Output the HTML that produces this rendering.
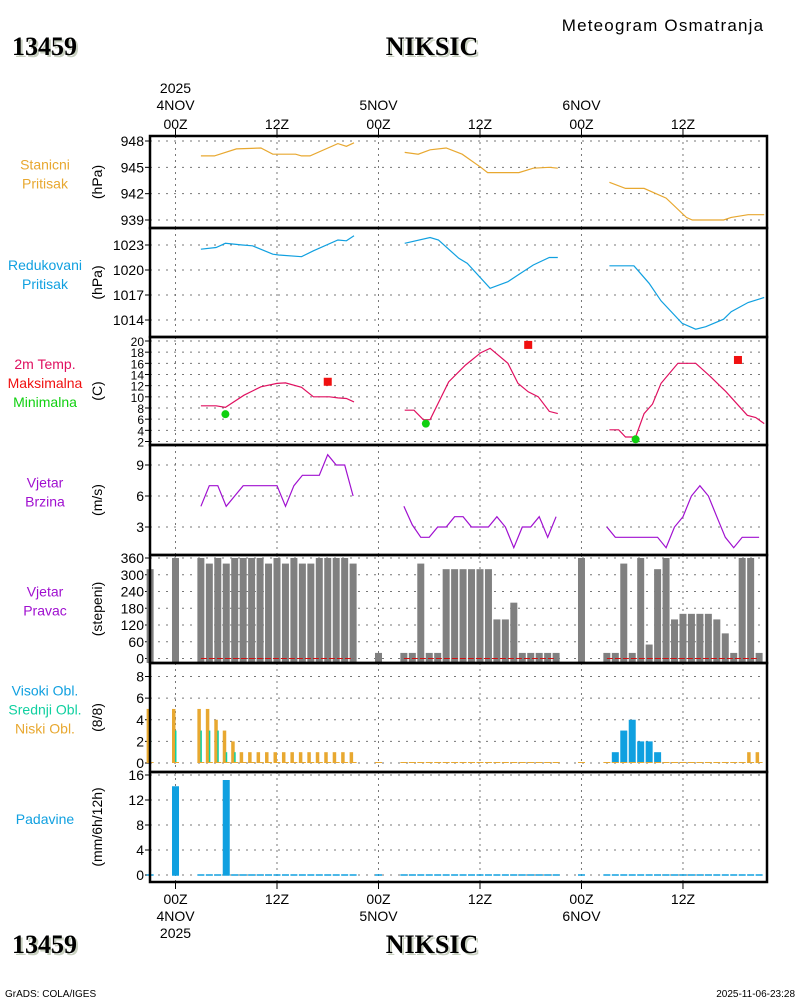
<!DOCTYPE html>
<html><head><meta charset="utf-8"><style>
body{margin:0;background:#fff;}
svg{display:block;font-family:"Liberation Sans",sans-serif;}
</style></head><body>
<svg id="c" width="800" height="1000" viewBox="0 0 800 1000">
<g>
<text x="663" y="31" text-anchor="middle" font-size="17" letter-spacing="1.2">Meteogram Osmatranja</text>
<text x="14" y="57" font-size="26" font-weight="bold" font-family="Liberation Serif" fill="#c8d0c0">13459</text>
<text x="12" y="55" font-size="26" font-weight="bold" font-family="Liberation Serif">13459</text>
<text x="434" y="57" text-anchor="middle" font-size="26" font-weight="bold" font-family="Liberation Serif" fill="#c8d0c0">NIKSIC</text>
<text x="432" y="55" text-anchor="middle" font-size="26" font-weight="bold" font-family="Liberation Serif">NIKSIC</text>
<text x="14" y="955" font-size="26" font-weight="bold" font-family="Liberation Serif" fill="#c8d0c0">13459</text>
<text x="12" y="953" font-size="26" font-weight="bold" font-family="Liberation Serif">13459</text>
<text x="434" y="955" text-anchor="middle" font-size="26" font-weight="bold" font-family="Liberation Serif" fill="#c8d0c0">NIKSIC</text>
<text x="432" y="953" text-anchor="middle" font-size="26" font-weight="bold" font-family="Liberation Serif">NIKSIC</text>
<text x="5" y="997" font-size="10">GrADS: COLA/IGES</text>
<text x="795" y="997" font-size="10" text-anchor="end">2025-11-06-23:28</text>
</g>
</svg>
<script>
// ---- data (hours from 2025-11-04 00Z) ----
const timeTickHours=[0,12,24,36,48,60];
const timeTickLabels=["00Z","12Z","00Z","12Z","00Z","12Z"];
const dayHours=[0,24,48];
const dayLabels=["4NOV","5NOV","6NOV"];
const stpHours=[[3,4.6,7.2,10.1,11.5,14.2,14.9,15.9,19.2,20.2,21.1],[27.1,28.7,30.1,32,33.9,36.1,36.9,40.6,42.3,44.2,45.2],[51.3,53.2,55.4,58,60.4,61.1,64.8,65.7,67.7,69.6]];
const stpValues=[[946.3,946.3,947.1,947.2,946.5,946.5,946.3,946.3,947.7,947.4,947.8],[946.7,946.5,947.0,947.2,946.5,945.0,944.4,944.4,944.9,945.0,944.9],[943.3,942.6,942.6,941.5,939.3,939.0,939.0,939.3,939.6,939.6]];
const slpHours=[[3,4.8,5.9,7.9,9.1,11.5,12.2,14.9,16.3,19.2,20.2,21.1],[27.1,30.1,31.1,33.5,34.5,37.2,39.3,40.5,42.3,44.2,45.2],[51.3,54.2,56,57.4,59.9,61.5,62.7,64.8,65.7,67.7,69.6]];
const slpValues=[[1022.5,1022.7,1023.2,1023.0,1022.9,1021.9,1021.8,1021.6,1022.3,1023.6,1023.5,1024.1],[1023.2,1023.9,1023.6,1021.4,1020.8,1017.8,1018.6,1019.4,1020.6,1021.5,1021.5],[1020.5,1020.5,1018.4,1016.3,1013.6,1012.9,1013.2,1014.1,1015.0,1016.1,1016.7]];
const tempHours=[[3,4.8,5.9,8.1,10.1,12,13,14.9,16.3,18.2,19.2,20.2,21.1],[27.1,28.2,29.3,30.1,32.3,34.3,36.1,37.2,39.3,40.5,41.7,42.9,44.2,45.2],[51.3,52.4,53.2,54.4,55.4,56.4,57.4,59.4,61.5,63.2,65.1,67.6,68.6,69.6]];
const tempValues=[[8.4,8.4,8.1,10.3,11.8,12.4,12.5,11.7,10.0,10.0,9.8,9.7,9.1],[7.6,7.6,5.9,5.9,12.7,15.7,17.9,18.7,16.0,12.4,10.9,10.0,7.4,7.0],[4.1,4.1,2.8,2.8,7.0,8.7,12.4,16.0,16.0,13.7,10.9,6.7,6.3,5.2]];
const tmaxHours=[18,41.7,66.5];
const tmaxValues=[12.7,19.3,16.6];
const tminHours=[5.9,29.6,54.4];
const tminValues=[6.9,5.2,2.4];
const windHours=[3,4,5,6,7,8,9,10,11,12,13,14,15,16,17,18,19,20,21,27,28,29,30,31,32,33,34,35,36,37,38,39,40,41,42,43,44,45,51,52,53,54,55,56,57,58,59,60,61,62,63,64,65,66,67,68,69];
const windSpeed=[5,7,7,5,6,7,7,7,7,7,5,7,8,8,8,10,9,9,6, 5,3.2,2,2,3,3,4,4,3,3,3,4,3,1,3,3,4,2,4, 3,2,2,2,2,2,2,1,3,4,6,7,6,4,2,1,2,2,2];
const dirHours=[-3,0,3,4,5,6,7,8,9,10,11,12,13,14,15,16,17,18,19,20,21,24,27,28,29,30,31,32,33,34,35,36,37,38,39,40,41,42,43,44,45,48,51,52,53,54,55,56,57,58,59,60,61,62,63,64,65,66,67,68,69];
const dirValues=[320,360,360,340,360,340,360,360,360,360,340,360,340,360,340,340,360,360,360,360,340,20,20,20,340,20,20,320,320,320,320,320,320,140,140,200,20,20,20,20,20,360,20,20,340,20,360,50,320,360,140,160,160,160,160,140,90,20,360,360,20];
const cloudHours=[-3,0,3,4,5,6,7,8,9,10,11,12,13,14,15,16,17,18,19,20,21,24,27,28,29,30,31,32,33,34,35,36,37,38,39,40,41,42,43,44,45,48,51,52,53,54,55,56,57,58,59,60,61,62,63,64,65,66,67,68,69];
const lowCloud=[5,5,5,5,4,3,2,1,1,1,1,1,1,1,1,1,1,1,1,1,1,0,0,0,0,0,0,0,0,0,0,0,0,0,0,0,0,0,0,0,0,0,0,0,0,0,0,0,0,0,0,0,0,0,0,0,0,0,0,1,1];
const midCloud=[3,3,3,3,3,1,1,0,0,0,0,0,0,0,0,0,0,0,0,0,0,0,0,0,0,0,0,0,0,0,0,0,0,0,0,0,0,0,0,0,0,0,0,0,0,0,0,0,0,0,0,0,0,0,0,0,0,0,0,0,0];
const highCloud=[0,0,0,0,0,0,0,0,0,0,0,0,0,0,0,0,0,0,0,0,0,0,0,0,0,0,0,0,0,0,0,0,0,0,0,0,0,0,0,0,0,0,0,1,3,4,2,2,1,0,0,0,0,0,0,0,0,0,0,0,0];
const precipHours=[-3,0,3,4,5,6,7,8,9,10,11,12,13,14,15,16,17,18,19,20,21,24,27,28,29,30,31,32,33,34,35,36,37,38,39,40,41,42,43,44,45,48,51,52,53,54,55,56,57,58,59,60,61,62,63,64,65,66,67,68,69];
const precipValues=[0,14.2,0,0,0,15.2,0,0,0,0,0,0,0,0,0,0,0,0,0,0,0,0,0,0,0,0,0,0,0,0,0,0,0,0,0,0,0,0,0,0,0,0,0,0,0,0,0,0,0,0,0,0,0,0,0,0,0,0,0,0,0];

const svg=document.getElementById('c');
const NS='http://www.w3.org/2000/svg';
const X0=150,X1=767;
function xs(h){return 175.5+h*8.458;}
function mk(tag,attrs,parent){const e=document.createElementNS(NS,tag);for(const k in attrs)e.setAttribute(k,attrs[k]);(parent||svg).appendChild(e);return e;}
function txt(s,attrs,parent){const e=mk('text',attrs,parent);e.textContent=s;return e;}

const panels=[
 {top:136,bot:228,name:'station-pressure',vmin:939,vmax:948,y0:220,y1:141,ticks:[939,942,945,948],labels:[['Stanicni','#e8a830'],['Pritisak','#e8a830']],unit:'(hPa)'},
 {top:228,bot:337,name:'reduced-pressure',vmin:1014,vmax:1023,y0:320,y1:245,ticks:[1014,1017,1020,1023],labels:[['Redukovani','#10a0e0'],['Pritisak','#10a0e0']],unit:'(hPa)'},
 {top:337,bot:445,name:'temperature',vmin:2,vmax:20,y0:441.5,y1:341,ticks:[2,4,6,8,10,12,14,16,18,20],labels:[['2m Temp.','#e01060'],['Maksimalna','#f01010'],['Minimalna','#10d010']],unit:'(C)'},
 {top:445,bot:555,name:'wind-speed',vmin:3,vmax:9,y0:527,y1:465,ticks:[3,6,9],labels:[['Vjetar','#a010d0'],['Brzina','#a010d0']],unit:'(m/s)'},
 {top:555,bot:663,name:'wind-direction',vmin:0,vmax:360,y0:658.5,y1:558,ticks:[0,60,120,180,240,300,360],labels:[['Vjetar','#a010d0'],['Pravac','#a010d0']],unit:'(stepeni)'},
 {top:663,bot:772,name:'cloud-cover',vmin:0,vmax:8,y0:763,y1:676.5,ticks:[0,2,4,6,8],labels:[['Visoki Obl.','#10a0e0'],['Srednji Obl.','#10d0a0'],['Niski Obl.','#e8a830']],unit:'(8/8)'},
 {top:772,bot:882,name:'precipitation',vmin:0,vmax:16,y0:875,y1:775,ticks:[0,4,8,12,16],labels:[['Padavine','#10a0e0']],unit:'(mm/6h/12h)'}
];
panels.forEach(p=>{p.ys=v=>p.y0+(v-p.vmin)*(p.y1-p.y0)/(p.vmax-p.vmin);});

panels.forEach(p=>{
 const g=mk('g',{});
 
 
 p.g=g;
 timeTickHours.forEach(h=>{
  const l=mk('line',{x1:xs(h),x2:xs(h),y1:p.top,y2:p.bot,stroke:'#777','stroke-dasharray':'2,4','stroke-width':1},g);
  
  
 });
 p.ticks.forEach(v=>{
  const y=p.ys(v);
  const l=mk('line',{x1:X0,x2:X1,y1:y,y2:y,stroke:'#777','stroke-dasharray':'2,6','stroke-width':1},g);
  
  
  mk('line',{x1:X0-5,x2:X0,y1:y,y2:y,stroke:'#000'},g);
  const t=txt(String(v),{x:X0-6,y:y+5,'text-anchor':'end','font-size':p.name=='temperature'?12:14},g);
  
  
 });
 const n=p.labels.length, mid=(p.top+p.bot)/2-8;
 p.labels.forEach((lb,i)=>{
  const t=txt(lb[0],{x:45,y:mid-(n-1)*9.5+i*19+5,'text-anchor':'middle','font-size':14,fill:lb[1]},g);
  
  
 });
 const u=txt(p.unit,{x:0,y:0,'text-anchor':'middle','font-size':14,transform:`translate(102,${(p.top+p.bot)/2}) rotate(-90)`},g);
 
 
});

function line(p,hours,vals,color,name){
 const pts=hours.map((h,i)=>xs(h).toFixed(1)+','+p.ys(vals[i]).toFixed(1)).join(' ');
 const e=mk('polyline',{points:pts,fill:'none',stroke:color,'stroke-width':1.2},p.g);
 
 
}
stpHours.forEach((hs,i)=>line(panels[0],hs,stpValues[i],'#e8a830','station-pressure-line'));
slpHours.forEach((hs,i)=>line(panels[1],hs,slpValues[i],'#10a0e0','reduced-pressure-line'));
tempHours.forEach((hs,i)=>line(panels[2],hs,tempValues[i],'#e01060','temperature-line'));
tmaxHours.forEach((h,i)=>{
 const e=mk('rect',{x:xs(h)-4,y:panels[2].ys(tmaxValues[i])-4,width:8,height:8,fill:'#f01010'},panels[2].g);
 
 
});
tminHours.forEach((h,i)=>{
 const e=mk('circle',{cx:xs(h),cy:panels[2].ys(tminValues[i]),r:4,fill:'#10d010'},panels[2].g);
 
 
});
{
 let seg=[],sv=[];
 windHours.forEach((h,i)=>{
  if(seg.length&&h-seg[seg.length-1]>1){line(panels[3],seg,sv,'#a010d0','wind-speed-line');seg=[];sv=[];}
  seg.push(h);sv.push(windSpeed[i]);
 });
 line(panels[3],seg,sv,'#a010d0','wind-speed-line');
}
dirHours.forEach((h,i)=>{
 const p=panels[4],y=p.ys(dirValues[i]);
 const e=mk('rect',{x:xs(h)-3.5,y:y,width:7,height:p.bot-y,fill:'#808080'},p.g);
 
 
});
[[3,21],[27,45],[51,69]].forEach(r=>{
 const p=panels[4],y=p.ys(0);
 const e=mk('line',{x1:xs(r[0]),x2:xs(r[1]),y1:y,y2:y,stroke:'#d01010','stroke-dasharray':'6,2','stroke-width':1},p.g);
 
 
});
cloudHours.forEach((h,i)=>{
 const p=panels[5],y0=p.ys(0),x=xs(h);
 if(highCloud[i]>0){const e=mk('rect',{x:x-3.5,y:p.ys(highCloud[i]),width:7,height:y0-p.ys(highCloud[i]),fill:'#10a0e0'},p.g);
  }
 if(lowCloud[i]>0){const e=mk('rect',{x:x-3.5,y:p.ys(lowCloud[i]),width:3.5,height:y0-p.ys(lowCloud[i]),fill:'#e8a830'},p.g);
  }
 if(midCloud[i]>0){const e=mk('rect',{x:x-0.5,y:p.ys(midCloud[i]),width:1.5,height:y0-p.ys(midCloud[i]),fill:'#10d0a0'},p.g);
  }
 const z=mk('line',{x1:x-3.5,x2:x+3.5,y1:y0-0.5,y2:y0-0.5,stroke:'#e8a830','stroke-width':1},p.g);
 
 
});
precipHours.forEach((h,i)=>{
 const p=panels[6],y0=p.ys(0),x=xs(h);
 if(precipValues[i]>0){const e=mk('rect',{x:x-3.5,y:p.ys(precipValues[i]),width:7,height:y0-p.ys(precipValues[i]),fill:'#10a0e0'},p.g);
  }
 const z=mk('line',{x1:x-3.5,x2:x+3.5,y1:y0,y2:y0,stroke:'#10a0e0','stroke-width':1.5},p.g);
 
 
});
panels.forEach(p=>{
 const r=mk('rect',{x:X0,y:p.top,width:X1-X0,height:p.bot-p.top,fill:'none',stroke:'#000','stroke-width':2.5});
 
 
});
timeTickHours.forEach((h,i)=>{
 const x=xs(h);
 mk('line',{x1:x,x2:x,y1:129,y2:136,stroke:'#000'});
 mk('line',{x1:x,x2:x,y1:882,y2:889,stroke:'#000'});
 const t=txt(timeTickLabels[i],{x:x,y:129,'text-anchor':'middle','font-size':14});
 
 
 const b=txt(timeTickLabels[i],{x:x,y:904,'text-anchor':'middle','font-size':14});
 
 
});
dayHours.forEach((h,i)=>{
 const x=xs(h);
 const t=txt(dayLabels[i],{x:x,y:110,'text-anchor':'middle','font-size':14});
 
 
 const b=txt(dayLabels[i],{x:x,y:921,'text-anchor':'middle','font-size':14});
 
 
});
{
 const t=txt('2025',{x:xs(0),y:93,'text-anchor':'middle','font-size':14});
 
 
 const b=txt('2025',{x:xs(0),y:938,'text-anchor':'middle','font-size':14});
 
 
}
</script>
</body></html>
